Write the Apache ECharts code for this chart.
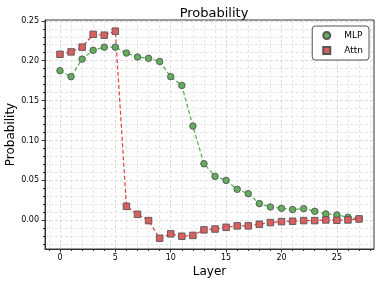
<!DOCTYPE html>
<html>
<head>
<meta charset="utf-8">
<script src="https://cdn.jsdelivr.net/npm/echarts@6/dist/echarts.min.js"></script>
<style>
html,body{margin:0;padding:0;background:#fff;}
#c{width:380px;height:284px;}
</style>
</head>
<body>
<div id="c"></div>
<script>
const layers = [0,1,2,3,4,5,6,7,8,9,10,11,12,13,14,15,16,17,18,19,20,21,22,23,24,25,26,27];
const mlp = [0.1875,0.180,0.202,0.213,0.217,0.217,0.2096,0.2046,0.203,0.199,0.180,0.169,0.118,0.0709,0.055,0.050,0.0388,0.0334,0.0209,0.0167,0.015,0.0134,0.0146,0.0113,0.008,0.0067,0.0038,0.0017];
const attn = [0.208,0.211,0.217,0.233,0.232,0.237,0.0175,0.0075,-0.0004,-0.0225,-0.017,-0.020,-0.019,-0.012,-0.011,-0.0088,-0.007,-0.007,-0.005,-0.0029,-0.0017,-0.0012,-0.0004,-0.0004,0.0004,0.0,0.0004,0.0017];
const xTicks = [0,5,10,15,20,25];
const yTicks = [0.00,0.05,0.10,0.15,0.20,0.25];

const xMinor = []; for (let i = -1; i <= 28; i++) xMinor.push(i);
const yMinor = []; for (let i = -3; i <= 25; i++) yMinor.push(+(i*0.01).toFixed(2));

const X0 = -1.35, X1 = 28.35, Y0 = -0.036, Y1 = 0.251;
const font = 'DejaVu Sans';
const axisCol = '#333';

const chart = echarts.init(document.getElementById('c'), null, {renderer:'canvas'});
chart.setOption({
  animation: false,
  backgroundColor: '#fff',
  textStyle: {fontFamily: font},
  title: {
    text: 'Probability', left: 209, top: 2, textAlign: 'center',
    textStyle: {fontFamily: font, fontSize: 13, fontWeight: 'normal', color: '#000'}
  },
  grid: {left: 45, right: 6, top: 20, bottom: 35, show: true, borderColor: axisCol, borderWidth: 1,
    backgroundColor: 'transparent', containLabel: false, outerBoundsMode: 'none'},
  legend: {
    orient: 'vertical', right: 11, top: 26,
    padding: [5, 6, 5, 10], itemGap: 6, itemWidth: 7, itemHeight: 7,
    borderColor: '#555', borderWidth: 1, borderRadius: 3, backgroundColor: '#fff',
    textStyle: {fontFamily: font, fontSize: 9, color: '#000', padding: [0, 0, 0, 9]},
    data: [{name: 'MLP', icon: 'circle'}, {name: 'Attn', icon: 'rect'}]
  },
  xAxis: [
    {
      type: 'value', min: X0, max: X1, position: 'bottom',
      name: 'Layer', nameLocation: 'middle', nameGap: 17, nameMoveOverlap: false,
      nameTextStyle: {fontFamily: font, fontSize: 12, color: '#000'},
      axisLine: {show: true, onZero: false, lineStyle: {color: axisCol, width: 1}},
      axisTick: {show: true, length: 3.5, customValues: xTicks, lineStyle: {color: axisCol}},
      axisLabel: {customValues: xTicks, margin: 5, fontFamily: font, fontSize: 8, color: '#000'},
      splitLine: {show: true, lineStyle: {color: '#cfcfcf', type: [3, 2], width: 0.8}}
    },
    {
      type: 'value', min: X0, max: X1, position: 'bottom',
      axisLine: {show: false, onZero: false},
      axisTick: {show: true, length: 2, customValues: xMinor, lineStyle: {color: axisCol}},
      axisLabel: {show: false},
      splitLine: {show: true, lineStyle: {color: '#dddddd', type: [3, 2], width: 0.7}}
    }
  ],
  yAxis: [
    {
      type: 'value', min: Y0, max: Y1, position: 'left',
      name: 'Probability', nameLocation: 'middle', nameGap: 28, nameMoveOverlap: false,
      nameTextStyle: {fontFamily: font, fontSize: 12, color: '#000'},
      axisLine: {show: true, onZero: false, lineStyle: {color: axisCol, width: 1}},
      axisTick: {show: true, length: 3.5, customValues: yTicks, lineStyle: {color: axisCol}},
      axisLabel: {customValues: yTicks, margin: 6, fontFamily: font, fontSize: 8, color: '#000',
        formatter: v => v.toFixed(2)},
      splitLine: {show: true, lineStyle: {color: '#cfcfcf', type: [3, 2], width: 0.8}}
    },
    {
      type: 'value', min: Y0, max: Y1, position: 'left',
      axisLine: {show: false, onZero: false},
      axisTick: {show: true, length: 2, customValues: yMinor, lineStyle: {color: axisCol}},
      axisLabel: {show: false},
      splitLine: {show: true, lineStyle: {color: '#dddddd', type: [3, 2], width: 0.7}}
    }
  ],
  series: [
    {
      name: 'MLP', type: 'line', xAxisIndex: 0, yAxisIndex: 0,
      data: layers.map((l, i) => [l, mlp[i]]),
      symbol: 'circle', symbolSize: 6.5,
      lineStyle: {color: '#4cb04c', type: [4, 2.5], width: 1.2},
      itemStyle: {color: '#62ad5e', borderColor: '#555', borderWidth: 0.9},
      emphasis: {disabled: true}
    },
    {
      name: 'Attn', type: 'line', xAxisIndex: 0, yAxisIndex: 0,
      data: layers.map((l, i) => [l, attn[i]]),
      symbol: 'rect', symbolSize: 6.5,
      lineStyle: {color: '#e2403f', type: [4, 2.5], width: 1.2},
      itemStyle: {color: '#d9605f', borderColor: '#555', borderWidth: 0.9},
      emphasis: {disabled: true}
    }
  ]
});
</script>
</body>
</html>
